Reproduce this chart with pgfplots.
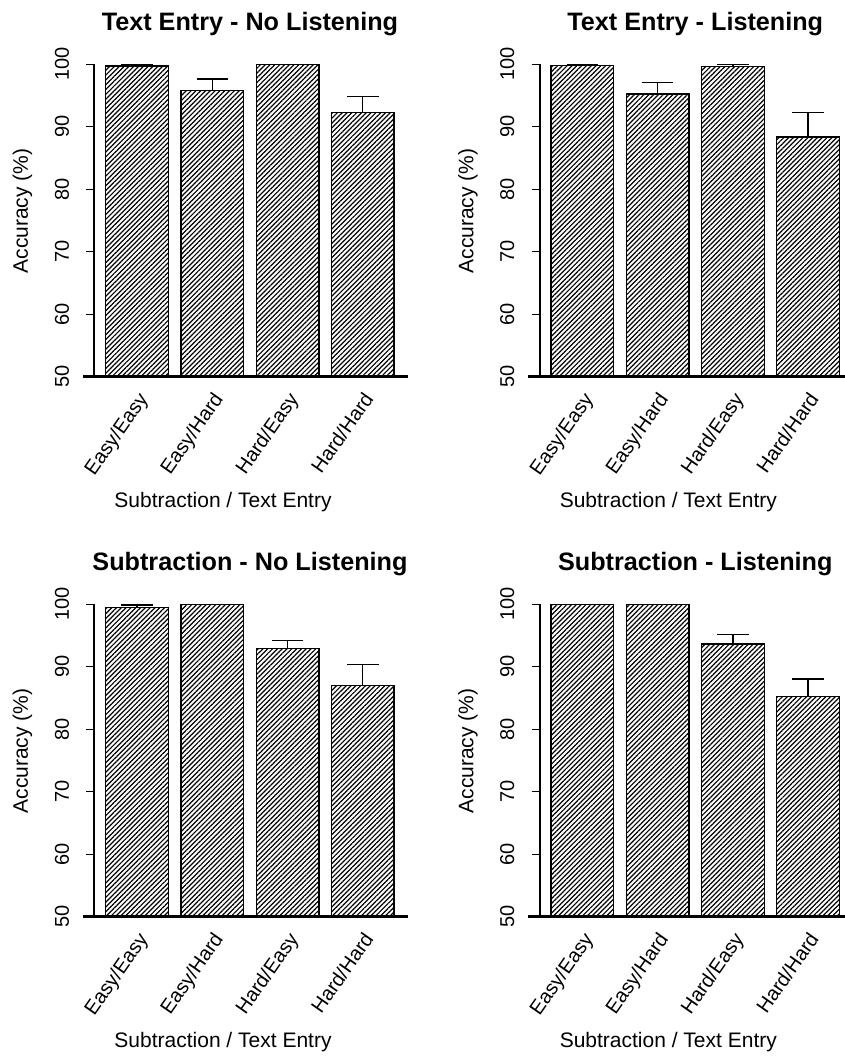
\documentclass[border=0pt]{standalone}
\usepackage{pgfplots}
\pgfplotsset{compat=1.18}
\usepackage{pgfplotstable}
\usetikzlibrary{patterns.meta}
\usepackage{fontspec}
\setmainfont{Liberation Sans}

\pgfplotstableread{
x y e
0.7 99.70 0.30
1.9 95.84 1.81
3.1 100.00 0.00
4.3 92.32 2.56
}\tableTL
\pgfplotstableread{
x y e
0.7 99.84 0.16
1.9 95.25 1.82
3.1 99.68 0.32
4.3 88.37 3.89
}\tableTR
\pgfplotstableread{
x y e
0.7 99.47 0.43
1.9 100.00 0.00
3.1 92.96 1.28
4.3 86.98 3.36
}\tableBL
\pgfplotstableread{
x y e
0.7 100.00 0.00
1.9 100.00 0.00
3.1 93.65 1.49
4.3 85.22 2.83
}\tableBR

\pgfplotsset{
  panel/.style={
    scale only axis, width=311.5pt, height=324.9pt,
    xmin=0.016, xmax=4.984, ymin=50, ymax=102,
    axis x line=bottom, axis y line=left,
    axis line style={-},
    x axis line style={line width=2.6pt, shorten <=-11.2pt, shorten >=-2.3pt},
    y axis line style={line width=2pt, shorten >=12.5pt},
    xtick={0.885,2.085,3.285,4.485},
    xticklabels={Easy/Easy,Easy/Hard,Hard/Easy,Hard/Hard},
    xtick style={draw=none},
    ytick={50,60,70,80,90,100},
    yticklabels={50,60,70,80,90,100},
    tick align=outside, major tick length=8pt,
    ytick style={line width=1.2pt, black},
    yticklabel style={rotate=90, anchor=south, inner sep=0pt, font=\fontsize{20}{20}\selectfont},
    yticklabel shift=17pt,
    xticklabel style={rotate=55, anchor=base east, inner sep=0pt, font=\fontsize{20}{20}\selectfont},
    xticklabel shift=14.3pt,
    title style={font=\bfseries\fontsize{25.2}{30}\selectfont, at={(axis description cs:0.5,1)}, anchor=base, yshift=15.1pt},
    xlabel={Subtraction / Text Entry},
    xlabel style={font=\fontsize{21}{21}\selectfont, at={(axis description cs:0.4135,0)}, anchor=base, yshift=-131pt},
    ylabel={Accuracy (\%)},
    ylabel style={font=\fontsize{21}{21}\selectfont, at={(axis description cs:-0.230,0.510)}, anchor=center},
  },
  hbar/.style={
    ybar, bar width=1, draw=black, line width=1.4pt,
    pattern={Lines[angle=45,distance=3.4pt,line width=1.2pt]},
    error bars/.cd, y dir=plus, y explicit,
    error bar style={line width=1.3pt, black},
    error mark options={rotate=90, mark size=15.7pt, line width=1.3pt, black},
  },
}

\begin{document}
\begin{tikzpicture}
\path[use as bounding box] (0,0) rectangle (844pt,-1056pt);

\begin{axis}[panel, at={(94.2pt,-376.7pt)}, anchor=south west, title={Text Entry - No Listening}]
\addplot[hbar] table[x=x,y=y,y error=e]{\tableTL};
\end{axis}

\begin{axis}[panel, at={(539.5pt,-376.7pt)}, anchor=south west, title={Text Entry - Listening}]
\addplot[hbar] table[x=x,y=y,y error=e]{\tableTR};
\end{axis}

\begin{axis}[panel, at={(94.2pt,-916.7pt)}, anchor=south west, title={Subtraction - No Listening}]
\addplot[hbar] table[x=x,y=y,y error=e]{\tableBL};
\end{axis}

\begin{axis}[panel, at={(539.5pt,-916.7pt)}, anchor=south west, title={Subtraction - Listening}]
\addplot[hbar] table[x=x,y=y,y error=e]{\tableBR};
\end{axis}
\end{tikzpicture}
\end{document}
